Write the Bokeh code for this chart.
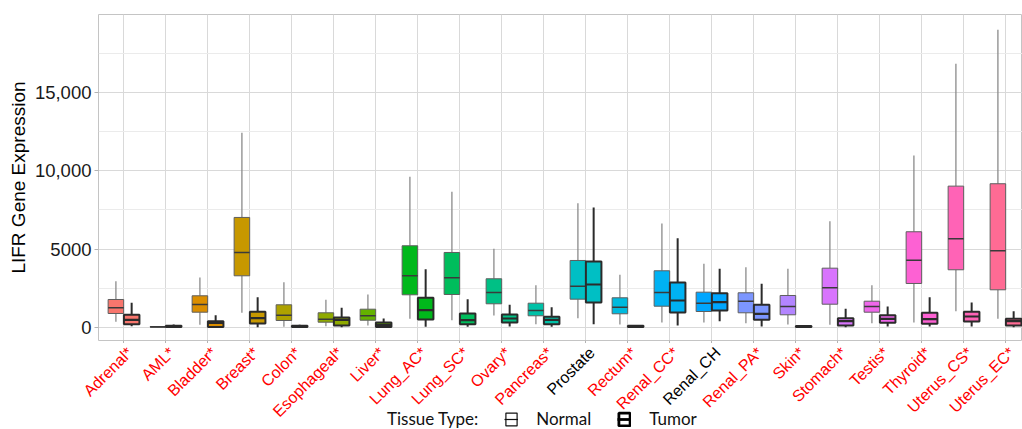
import math
from bokeh.plotting import figure
from bokeh.layouts import column
from bokeh.models import (ColumnDataSource, Range1d, FixedTicker,
                          Legend, LegendItem)
from bokeh.core.properties import value
from bokeh.embed import file_html
from bokeh.resources import INLINE

# ---------------- data ----------------
tissues = ["Adrenal*", "AML*", "Bladder*", "Breast*", "Colon*", "Esophageal*",
           "Liver*", "Lung_AC*", "Lung_SC*", "Ovary*", "Pancreas*", "Prostate",
           "Rectum*", "Renal_CC*", "Renal_CH", "Renal_PA*", "Skin*", "Stomach*",
           "Testis*", "Thyroid*", "Uterus_CS*", "Uterus_EC*"]

normal_lower = [346, 0, 154, 922, 26, 64, 109, 538, 448, 749, 192, 576,
                173, 301, 301, 256, 173, 154, 256, 301, 1024, 538]
normal_q1 = [877, 10, 960, 3290, 429, 320, 448, 2074, 2093, 1498, 730, 1793,
             858, 1344, 1005, 922, 794, 1472, 960, 2798, 3675, 2394]
normal_median = [1242, 20, 1453, 4782, 768, 512, 730, 3290, 3163, 2221, 1069, 2625,
                 1280, 2221, 1536, 1664, 1325, 2522, 1325, 4289, 5659, 4891]
normal_q3 = [1773, 40, 2010, 7023, 1434, 922, 1152, 5211, 4782, 3099, 1536, 4270,
             1882, 3611, 2241, 2202, 2029, 3777, 1664, 6107, 9027, 9180]
normal_upper = [2945, 70, 3180, 12446, 2881, 1754, 2093, 9630, 8668, 5019, 2689, 7938,
                3355, 6638, 4059, 3841, 3739, 6786, 2689, 10992, 16863, 19040]

tumor_lower = [64, 0, 0, 0, 0, 0, 0, 26, 26, 45, 26, 192,
               0, 109, 384, 45, 0, 0, 45, 45, 45, 0]
tumor_q1 = [192, 20, 20, 237, 10, 109, 20, 493, 192, 301, 192, 1581,
            10, 941, 1069, 474, 10, 109, 282, 218, 365, 109]
tumor_median = [474, 50, 282, 576, 40, 474, 154, 1088, 448, 557, 474, 2734,
                40, 1709, 1600, 858, 30, 384, 538, 512, 685, 384]
tumor_q3 = [794, 100, 384, 986, 90, 621, 301, 1882, 877, 813, 666, 4206,
            100, 2862, 2177, 1434, 80, 576, 768, 922, 986, 538]
tumor_upper = [1562, 170, 768, 1920, 150, 1242, 557, 3713, 1793, 1434, 1280, 7663,
               130, 5698, 3739, 2778, 120, 1178, 1325, 1920, 1581, 1024]

y_ticks = [0, 5000, 10000, 15000]
y_tick_labels = ["0", "5000", "10,000", "15,000"]
y_minor = [2500, 7500, 12500, 17500]


# ---------------- colours (ggplot2 default hue palette) ----------------
def hcl_hex(h, c=100.0, l=65.0):
    hr = math.radians(h)
    u, v = c * math.cos(hr), c * math.sin(hr)
    Xn, Yn, Zn = 95.047, 100.0, 108.883
    Y = Yn * (((l + 16) / 116) ** 3)
    den = Xn + 15 * Yn + 3 * Zn
    un, vn = 4 * Xn / den, 9 * Yn / den
    up, vp = u / (13 * l) + un, v / (13 * l) + vn
    X = Y * 9 * up / (4 * vp)
    Z = Y * (12 - 3 * up - 20 * vp) / (4 * vp)
    X, Y, Z = X / 100, Y / 100, Z / 100
    rgb = [3.240479 * X - 1.537150 * Y - 0.498535 * Z,
           -0.969256 * X + 1.875992 * Y + 0.041556 * Z,
           0.055648 * X - 0.204043 * Y + 1.057311 * Z]
    out = []
    for ch in rgb:
        ch = 12.92 * ch if ch <= 0.0031308 else 1.055 * max(ch, 0) ** (1 / 2.4) - 0.055
        out.append(int(round(min(1, max(0, ch)) * 255)))
    return "#%02x%02x%02x" % tuple(out)


n = len(tissues)
palette = [hcl_hex(15 + 360.0 * i / n) for i in range(n)]
label_colors = ["#ff0000" if t.endswith("*") else "#000000" for t in tissues]

# ---------------- layout constants ----------------
W = 1022
LEFT = 98          # frame left (px)
TOP = 14           # frame top (px)
FRAME_H = 326
BOTTOM_MAIN = 3
H_MAIN = TOP + FRAME_H + BOTTOM_MAIN
H_LOW = 429 - H_MAIN

X_START, X_END = -0.602, 21.398
Y_START, Y_END = -851, 20010
BOX_W = 0.37
DODGE = 0.1875

p = figure(width=W, height=H_MAIN, x_range=Range1d(X_START, X_END),
           y_range=Range1d(Y_START, Y_END), output_backend="svg",
           toolbar_location=None, min_border_left=LEFT, min_border_right=0,
           min_border_top=TOP, min_border_bottom=BOTTOM_MAIN)
p.frame_align = False
p.background_fill_color = "white"
p.border_fill_color = "white"
p.outline_line_color = "#c4c4c4"
p.outline_line_width = 1

idx = list(range(n))


def make_src(offset, lo, q1, med, q3, hi):
    xs = [i + offset for i in idx]
    return ColumnDataSource(dict(
        x=xs, xl=[x - BOX_W / 2 for x in xs], xr=[x + BOX_W / 2 for x in xs],
        lower=lo, q1=q1, med=med, q3=q3, upper=hi, color=palette))


src_n = make_src(-DODGE, normal_lower, normal_q1, normal_median, normal_q3, normal_upper)
src_t = make_src(DODGE, tumor_lower, tumor_q1, tumor_median, tumor_q3, tumor_upper)

styles = [(src_n, "#5e5e5e", 1.0, "#8a8a8a", 1.3, "#3a3a3a", 1.6),
          (src_t, "#2b2b2b", 2.0, "#2b2b2b", 2.0, "#2b2b2b", 2.2)]
for src, lc, lw, wc, ww, mc, mw in styles:
    p.segment(x0="x", y0="q3", x1="x", y1="upper", source=src, line_color=wc, line_width=ww)
    p.segment(x0="x", y0="q1", x1="x", y1="lower", source=src, line_color=wc, line_width=ww)
    p.vbar(x="x", width=BOX_W, top="q3", bottom="q1", source=src,
           fill_color="color", line_color=lc, line_width=lw)
    p.segment(x0="xl", y0="med", x1="xr", y1="med", source=src, line_color=mc, line_width=mw)

# ---------------- axes / grid ----------------
p.xaxis.ticker = FixedTicker(ticks=idx)
p.xaxis.major_label_overrides = {i: "" for i in idx}
p.xaxis.major_label_text_font_size = "1px"
p.xaxis.major_label_standoff = 0
p.yaxis.ticker = FixedTicker(ticks=y_ticks, minor_ticks=y_minor)
p.yaxis.major_label_overrides = dict(zip(y_ticks, y_tick_labels))

for ax in (p.xaxis, p.yaxis):
    ax.axis_line_color = None
    ax.major_tick_line_color = "#b3b3b3"
    ax.major_tick_in = 0
    ax.minor_tick_line_color = None
p.xaxis.major_tick_out = 3
p.yaxis.major_tick_out = 4

p.yaxis.major_label_text_font = "Liberation Sans"
p.yaxis.major_label_text_font_size = "18.5px"
p.yaxis.major_label_text_color = "#1a1a1a"
p.yaxis.major_label_standoff = 3
p.yaxis.axis_label = "LIFR Gene Expression"
p.yaxis.axis_label_text_font = "Liberation Sans"
p.yaxis.axis_label_text_font_size = "19px"
p.yaxis.axis_label_text_font_style = "normal"
p.yaxis.axis_label_text_color = "black"
p.yaxis.axis_label_standoff = 3

p.xgrid.grid_line_color = "#d9d9d9"
p.ygrid.grid_line_color = "#d9d9d9"
p.ygrid.minor_grid_line_color = "#ebebeb"

# ---------------- lower strip: x labels + legend ----------------
px_per_unit = (W - LEFT) / (X_END - X_START)
q = figure(width=W, height=H_LOW,
           x_range=Range1d(X_START - LEFT / px_per_unit, X_END),
           y_range=Range1d(0, H_LOW), output_backend="svg",
           toolbar_location=None, x_axis_location=None, y_axis_location=None,
           min_border=0)
q.frame_align = False
q.grid.visible = False
q.outline_line_color = None
q.background_fill_color = "white"
q.border_fill_color = "white"

lab_src = ColumnDataSource(dict(x=idx, y=[H_LOW - 0.5] * n, text=tissues, color=label_colors))
q.text(x="x", y="y", text="text", source=lab_src, angle=math.pi / 4,
       text_align="right", text_baseline="top", text_color="color",
       text_font=value("Liberation Sans"), text_font_size="16px")

# legend key renderers (hidden: NaN data, only their legend keys are drawn)
nan = [float("nan")]
r_title = q.line(x=nan, y=nan, line_alpha=0)
r_nb = q.vbar(x=nan, top=nan, bottom=nan, width=0.3, fill_color="white",
              line_color="#111111", line_width=1.2)
r_nm = q.segment(x0=nan, y0=nan, x1=nan, y1=nan, line_color="#111111", line_width=1.2)
r_tb = q.vbar(x=nan, top=nan, bottom=nan, width=0.3, fill_color="white",
              line_color="#000000", line_width=2.8)
r_tm = q.segment(x0=nan, y0=nan, x1=nan, y1=nan, line_color="#000000", line_width=2.8)

legend = Legend(items=[LegendItem(label="Tissue Type:", renderers=[r_title]),
                       LegendItem(label="Normal", renderers=[r_nb, r_nm]),
                       LegendItem(label="Tumor", renderers=[r_tb, r_tm])],
                location=(355, 0), orientation="horizontal",
                border_line_color=None, background_fill_alpha=0,
                padding=0, margin=0, spacing=26, label_standoff=18,
                glyph_width=14, glyph_height=16,
                label_text_font="Lato", label_text_font_size="17px",
                label_text_color="#111111")
q.add_layout(legend)

open("out.html", "w").write(file_html(column(p, q), INLINE))
